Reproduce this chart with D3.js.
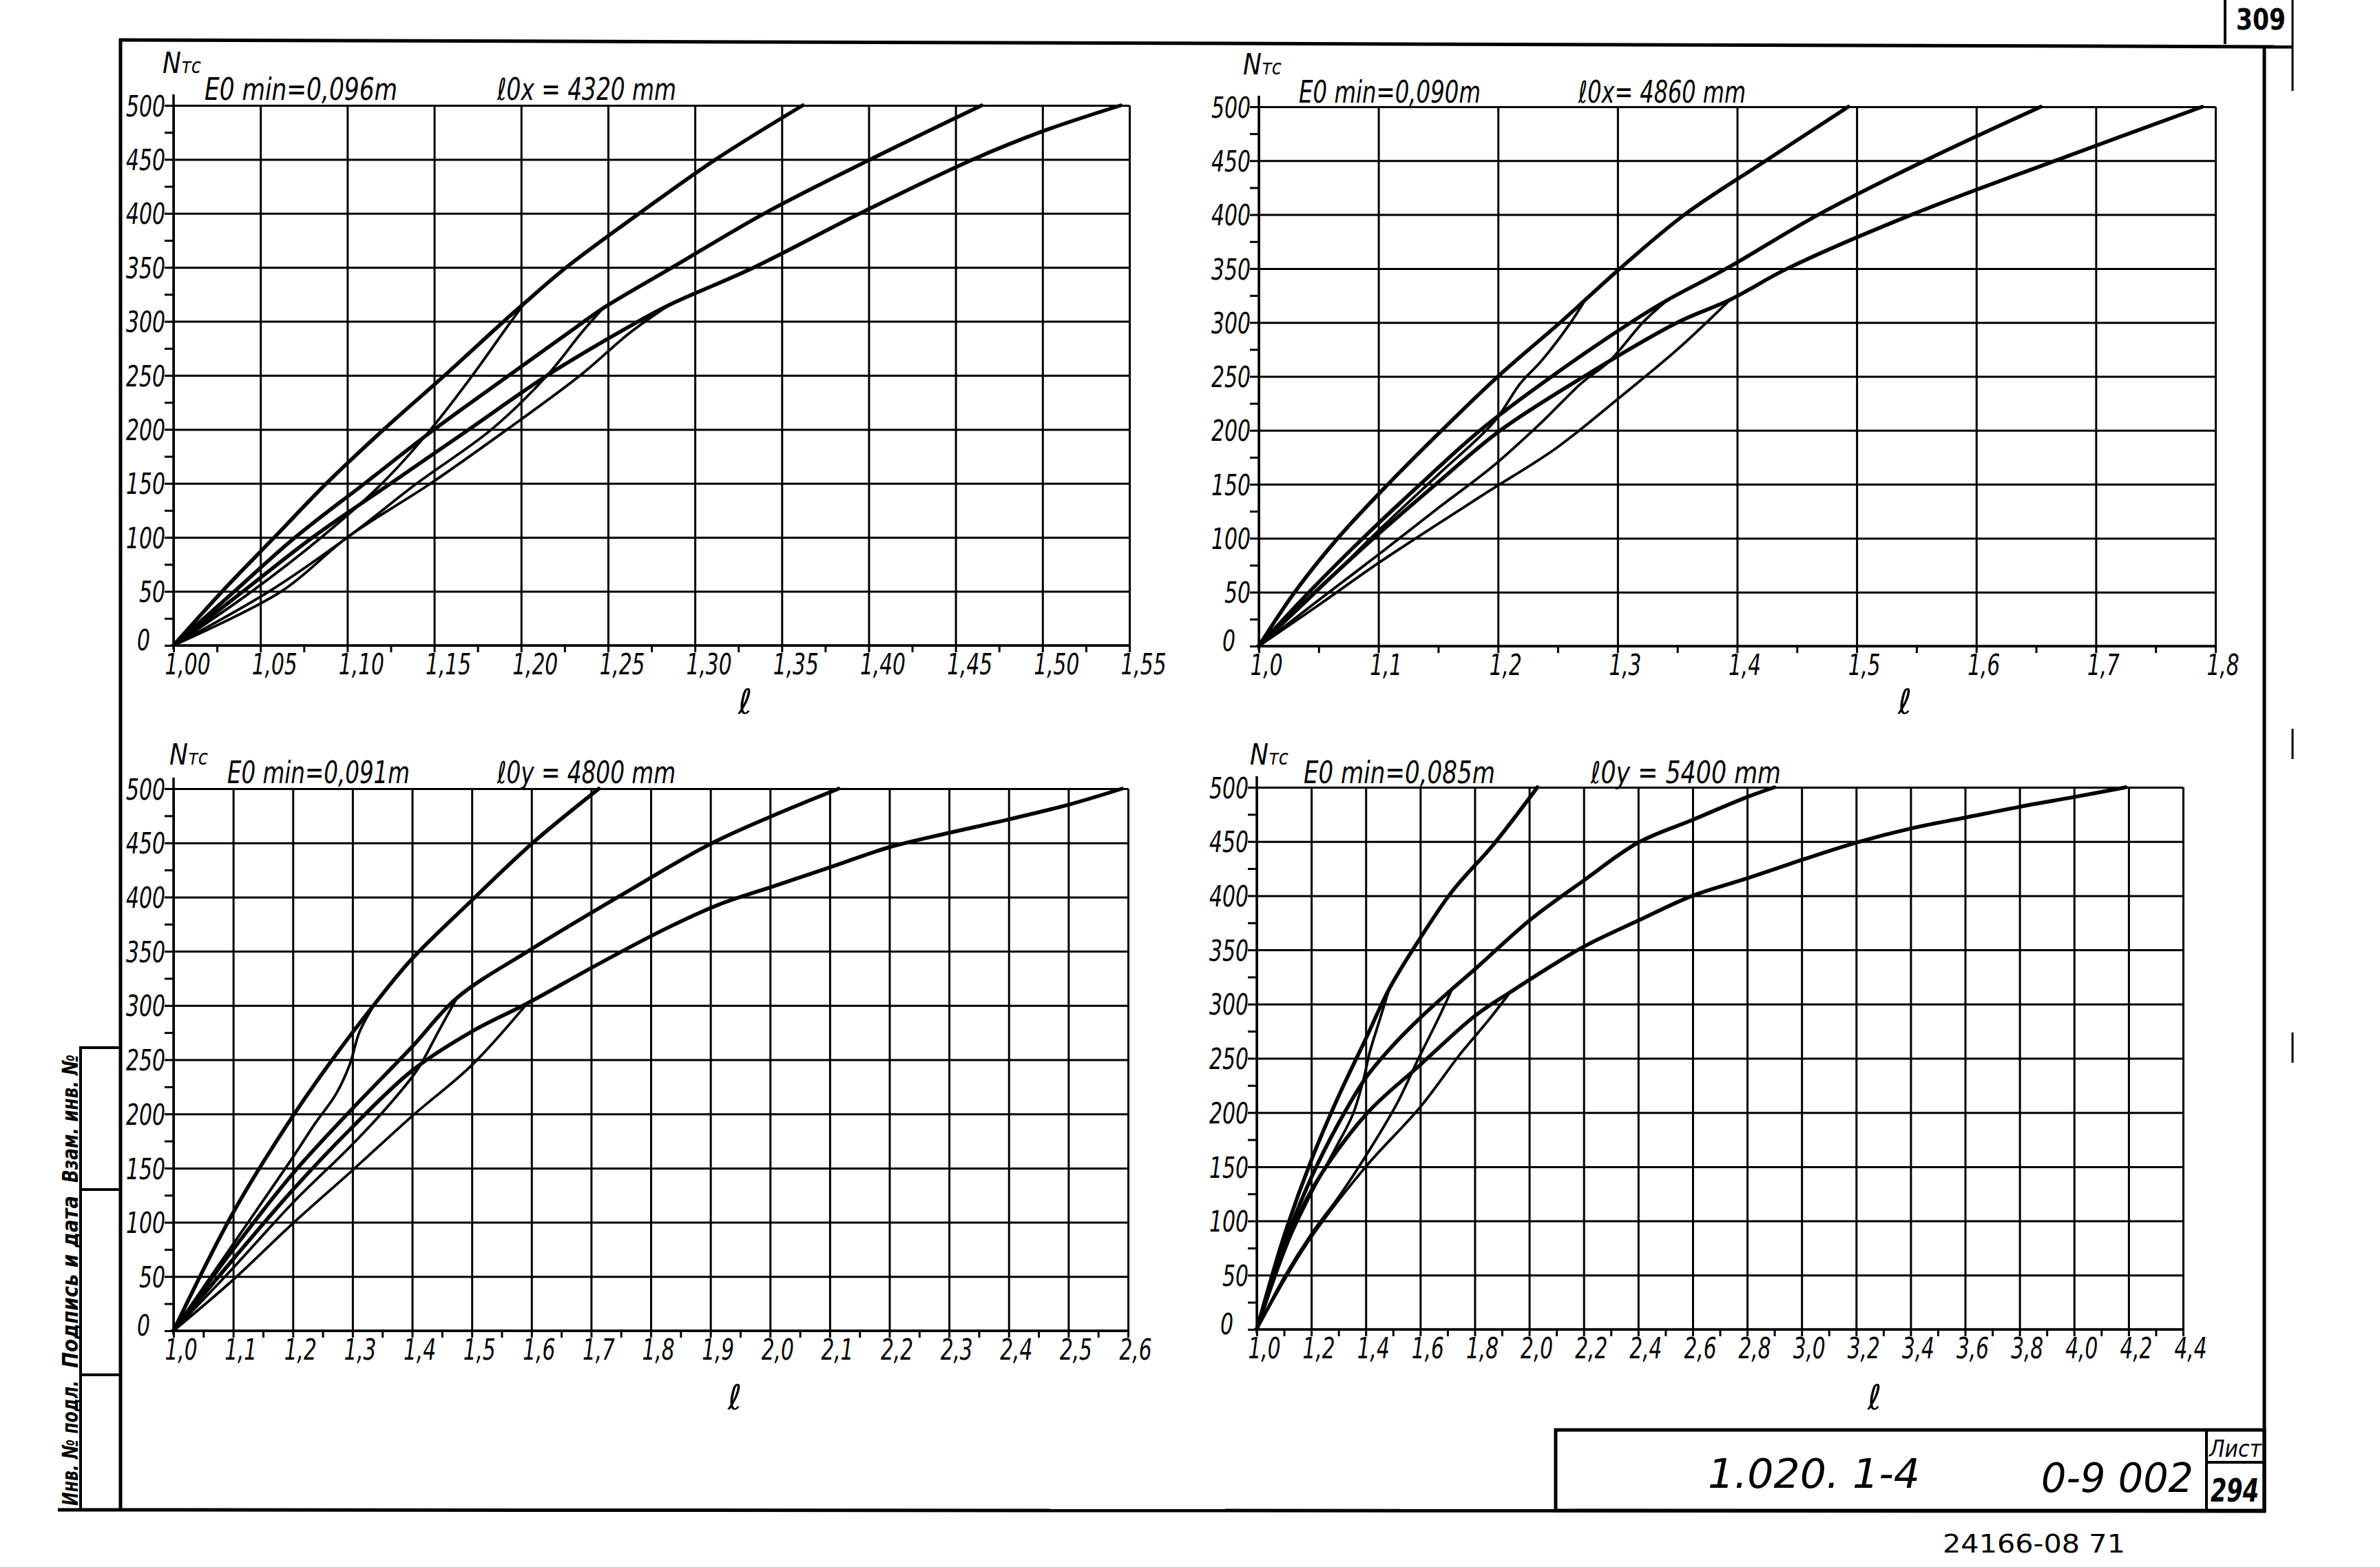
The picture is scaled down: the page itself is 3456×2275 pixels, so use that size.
<!DOCTYPE html>
<html><head><meta charset="utf-8">
<script src="https://cdn.jsdelivr.net/npm/d3@7"></script>
<style>
html,body{margin:0;padding:0;background:#fff;}
svg{display:block;background:#fff;}
</style></head><body>
<svg id="c" width="3456" height="2275"></svg>
<script>
// ---------------- DATA ----------------
const yTicks = [0,50,100,150,200,250,300,350,400,450,500];
const yTickLabels = ["0","50","100","150","200","250","300","350","400","450","500"];
const yMinorTicks = [25,75,125,175,225,275,325,375,425,475];

// chart 1 (top left)
const c1XTicks = [1.00,1.05,1.10,1.15,1.20,1.25,1.30,1.35,1.40,1.45,1.50,1.55];
const c1XLabels = ["1,00","1,05","1,10","1,15","1,20","1,25","1,30","1,35","1,40","1,45","1,50","1,55"];
const c1XMinor = [1.025,1.075,1.125,1.175,1.225,1.275,1.325,1.375,1.425,1.475,1.525];
const c1Title = ["E0 min=0,096m", "ℓ0x = 4320 mm"];
const c1U1 = [[1.000,0],[1.028,50],[1.058,100],[1.088,150],[1.121,200],[1.156,250],[1.190,300],[1.202,317],[1.226,350],[1.268,400],[1.312,450],[1.362,500]];
const c1L1 = [[1.000,0],[1.045,50],[1.085,100],[1.120,150],[1.148,200],[1.172,250],[1.192,295],[1.202,317]];
const c1U2 = [[1.000,0],[1.035,50],[1.070,100],[1.110,150],[1.150,200],[1.193,250],[1.232,295],[1.247,312],[1.287,350],[1.340,400],[1.401,450],[1.465,500]];
const c1L2 = [[1.000,0],[1.055,50],[1.100,100],[1.140,150],[1.183,200],[1.215,250],[1.235,290],[1.247,312]];
const c1U3 = [[1.000,0],[1.040,50],[1.080,100],[1.125,150],[1.170,200],[1.215,250],[1.262,295],[1.285,315],[1.334,350],[1.395,400],[1.460,450],[1.500,476],[1.545,500]];
const c1L3 = [[1.000,0],[1.062,50],[1.100,100],[1.148,150],[1.192,200],[1.234,250],[1.263,290],[1.285,315]];

// chart 2 (top right)
const c2XTicks = [1.0,1.1,1.2,1.3,1.4,1.5,1.6,1.7,1.8];
const c2XLabels = ["1,0","1,1","1,2","1,3","1,4","1,5","1,6","1,7","1,8"];
const c2XMinor = [1.05,1.15,1.25,1.35,1.45,1.55,1.65,1.75];
const c2Title = ["E0 min=0,090m", "ℓ0x= 4860 mm"];
const c2U1 = [[1.0,0],[1.030,50],[1.066,100],[1.108,150],[1.153,200],[1.200,250],[1.252,300],[1.273,321],[1.302,350],[1.356,400],[1.424,450],[1.493,500]];
const c2L1 = [[1.0,0],[1.047,49],[1.099,106],[1.150,159],[1.196,207],[1.219,244],[1.236,264],[1.259,297],[1.273,321]];
const c2U2 = [[1.0,0],[1.042,50],[1.087,100],[1.135,150],[1.185,200],[1.245,250],[1.311,300],[1.342,321],[1.391,350],[1.468,400],[1.557,450],[1.654,500]];
const c2L2 = [[1.0,0],[1.047,40],[1.099,84],[1.150,128],[1.196,167],[1.236,207],[1.270,244],[1.293,264],[1.322,301],[1.342,321]];
const c2U3 = [[1.0,0],[1.047,50],[1.096,100],[1.148,150],[1.202,200],[1.272,250],[1.350,300],[1.394,321],[1.442,350],[1.546,400],[1.666,450],[1.789,500]];
const c2L3 = [[1.0,0],[1.050,38],[1.100,77],[1.190,142],[1.248,183],[1.299,228],[1.351,276],[1.394,321]];

// chart 3 (bottom left)
const c3XTicks = [1.0,1.1,1.2,1.3,1.4,1.5,1.6,1.7,1.8,1.9,2.0,2.1,2.2,2.3,2.4,2.5,2.6];
const c3XLabels = ["1,0","1,1","1,2","1,3","1,4","1,5","1,6","1,7","1,8","1,9","2,0","2,1","2,2","2,3","2,4","2,5","2,6"];
const c3XMinor = [1.05,1.15,1.25,1.35,1.45,1.55,1.65,1.75,1.85,1.95,2.05,2.15,2.25,2.35,2.45,2.55];
const c3Title = ["E0 min=0,091m", "ℓ0y = 4800 mm"];
const c3U1 = [[1.0,0],[1.1,109],[1.2,198],[1.27,253],[1.338,302],[1.398,342],[1.5,397],[1.6,449],[1.713,500]];
const c3L1 = [[1.0,0],[1.1,80],[1.2,160],[1.237,191],[1.272,218],[1.295,245],[1.312,276],[1.338,302]];
const c3U2 = [[1.0,0],[1.1,75],[1.2,145],[1.3,205],[1.4,262],[1.475,307],[1.6,352],[1.742,399],[1.9,449],[2.0,474],[2.115,500]];
const c3L2 = [[1.0,0],[1.1,58],[1.2,118],[1.3,172],[1.364,210],[1.409,241],[1.444,276],[1.475,307]];
const c3U3 = [[1.0,0],[1.1,66],[1.2,130],[1.3,188],[1.4,240],[1.5,276],[1.593,302],[1.708,337],[1.822,370],[1.914,393],[2.006,410],[2.103,428],[2.2,446],[2.298,459],[2.395,471],[2.499,485],[2.59,500]];
const c3L3 = [[1.0,0],[1.1,47],[1.2,99],[1.3,148],[1.4,198],[1.5,245],[1.593,302]];

// chart 4 (bottom right)
const c4XTicks = [1.0,1.2,1.4,1.6,1.8,2.0,2.2,2.4,2.6,2.8,3.0,3.2,3.4,3.6,3.8,4.0,4.2,4.4];
const c4XLabels = ["1,0","1,2","1,4","1,6","1,8","2,0","2,2","2,4","2,6","2,8","3,0","3,2","3,4","3,6","3,8","4,0","4,2","4,4"];
const c4XMinor = [1.1,1.3,1.5,1.7,1.9,2.1,2.3,2.5,2.7,2.9,3.1,3.3,3.5,3.7,3.9,4.1,4.3];
const c4Title = ["E0 min=0,085m", "ℓ0y = 5400 mm"];
const c4U1 = [[1.0,0],[1.1,86],[1.2,156],[1.3,215],[1.4,268],[1.486,314],[1.59,357],[1.717,404],[1.868,447],[2.03,500]];
const c4L1 = [[1.0,0],[1.088,65],[1.189,120],[1.289,167],[1.352,198],[1.39,229],[1.415,256],[1.453,287],[1.486,314]];
const c4U2 = [[1.0,0],[1.1,78],[1.2,140],[1.3,190],[1.4,232],[1.5,262],[1.59,285],[1.717,314],[1.8,332],[2.0,377],[2.2,414],[2.4,449],[2.6,470],[2.8,491],[2.9,500]];
const c4L2 = [[1.0,0],[1.1,48],[1.2,88],[1.3,122],[1.4,160],[1.516,209],[1.59,248],[1.667,287],[1.717,314]];
const c4U3 = [[1.0,0],[1.1,72],[1.2,128],[1.4,198],[1.6,244],[1.8,289],[1.93,311],[2.2,353],[2.4,377],[2.6,400],[2.8,416],[3.0,433],[3.2,449],[3.4,462],[3.6,472],[3.8,482],[4.0,491],[4.19,500]];
const c4L3 = [[1.0,0],[1.1,45],[1.2,85],[1.4,150],[1.6,205],[1.75,255],[1.85,285],[1.93,311]];

const yUnit = ["N", "тс"];
const xUnit = "ℓ";
const stampTexts = ["Взам. инв. №", "Подпись и дата", "Инв. № подл."];
const sheetCode = "1.020. 1-4";
const sheetNumber = "0-9 002";
const sheetLabel = "Лист";
const sheetPage = "294";
const cornerNumber = "309";
const footerCode = "24166-08 71";

// ---------------- LAYOUT ----------------
const FONT = "'DejaVu Sans','Liberation Sans',sans-serif";
const svg = d3.select("#c");
// width of a hand-lettered label: digits wide, commas narrow
const labelWidth = s => Array.from(s).reduce((a,ch)=> a + (ch===","||ch==="." ? 9 : 19), 0);

const charts = [
  {box:{x0:252,x1:1640,y0:937,y1:153}, dom:[1.0,1.55], ticks:c1XTicks, labels:c1XLabels, minor:c1XMinor, title:c1Title,
   upper:[c1U1,c1U2,c1U3], lower:[c1L1,c1L2,c1L3], unitPos:[236,106], t1:[297,145,280], t2:[722,145,260], lPos:[1082,1036]},
  {box:{x0:1828,x1:3217,y0:938,y1:155}, dom:[1.0,1.8], ticks:c2XTicks, labels:c2XLabels, minor:c2XMinor, title:c2Title,
   upper:[c2U1,c2U2,c2U3], lower:[c2L1,c2L2,c2L3], unitPos:[1805,108], t1:[1886,149,264], t2:[2292,149,243], lPos:[2766,1036]},
  {box:{x0:252,x1:1638,y0:1932,y1:1145}, dom:[1.0,2.6], ticks:c3XTicks, labels:c3XLabels, minor:c3XMinor, title:c3Title,
   upper:[c3U1,c3U2,c3U3], lower:[c3L1,c3L2,c3L3], unitPos:[246,1110], t1:[330,1137,265], t2:[722,1137,259], lPos:[1067,2046]},
  {box:{x0:1825,x1:3170,y0:1930,y1:1143}, dom:[1.0,4.4], ticks:c4XTicks, labels:c4XLabels, minor:c4XMinor, title:c4Title,
   upper:[c4U1,c4U2,c4U3], lower:[c4L1,c4L2,c4L3], unitPos:[1815,1110], t1:[1893,1137,278], t2:[2310,1137,276], lPos:[2722,2046]}
];

function drawChart(cfg){
  const b = cfg.box;
  const x = d3.scaleLinear().domain(cfg.dom).range([b.x0,b.x1]);
  const y = d3.scaleLinear().domain([0,500]).range([b.y0,b.y1]);
  const g = svg.append("g");

  // vertical grid lines + x labels
  const gx = g.append("g").attr("transform",`translate(0,${b.y0})`)
    .call(d3.axisBottom(x).tickValues(cfg.ticks).tickSize(-(b.y0-b.y1)).tickSizeOuter(0)
      .tickFormat((d,i)=>cfg.labels[i]).tickPadding(12));
  gx.select(".domain").remove();
  gx.selectAll(".tick line").attr("stroke","#000").attr("stroke-width",3);
  gx.selectAll(".tick text").attr("font-family",FONT).attr("font-size",42).attr("font-style","italic")
    .attr("text-anchor","start").attr("dx",-13).attr("fill","#000")
    .attr("textLength",(d,i)=>labelWidth(cfg.labels[i])).attr("lengthAdjust","spacingAndGlyphs");

  // small ticks below x axis
  const gxt = g.append("g").attr("transform",`translate(0,${b.y0})`)
    .call(d3.axisBottom(x).tickValues(cfg.ticks.concat(cfg.minor)).tickSize(10).tickSizeOuter(0).tickFormat(""));
  gxt.select(".domain").remove();
  gxt.selectAll(".tick line").attr("stroke","#000").attr("stroke-width",3);

  // horizontal grid lines + y labels
  const gy = g.append("g").attr("transform",`translate(${b.x0},0)`)
    .call(d3.axisLeft(y).tickValues(yTicks).tickSize(-(b.x1-b.x0)).tickSizeOuter(0)
      .tickFormat((d,i)=>yTickLabels[i]).tickPadding(12));
  gy.select(".domain").remove();
  gy.selectAll(".tick line").attr("stroke","#000").attr("stroke-width",3);
  gy.selectAll(".tick text").attr("font-family",FONT).attr("font-size",42).attr("font-style","italic").attr("fill","#000")
    .attr("x",d=> d===0 ? -34 : -12).attr("dy", d=> d===0 ? "0.15em" : "0.36em")
    .attr("textLength",(d,i)=>labelWidth(yTickLabels[i])).attr("lengthAdjust","spacingAndGlyphs");

  // small ticks left of y axis
  const gyt = g.append("g").attr("transform",`translate(${b.x0},0)`)
    .call(d3.axisLeft(y).tickValues(yTicks.concat(yMinorTicks)).tickSize(13).tickSizeOuter(0).tickFormat(""));
  gyt.select(".domain").remove();
  gyt.selectAll(".tick line").attr("stroke","#000").attr("stroke-width",3);

  // axes lines
  g.append("line").attr("x1",b.x0).attr("x2",b.x0).attr("y1",b.y0+6).attr("y2",b.y1-16)
    .attr("stroke","#000").attr("stroke-width",3.5);
  g.append("line").attr("x1",b.x0-4).attr("x2",b.x1+2).attr("y1",b.y0).attr("y2",b.y0)
    .attr("stroke","#000").attr("stroke-width",3.5);

  // curves
  const line = d3.line().x(d=>x(d[0])).y(d=>y(d[1])).curve(d3.curveCatmullRom.alpha(0.5));
  g.selectAll("path.up").data(cfg.upper).enter().append("path").attr("class","up")
    .attr("d",line).attr("fill","none").attr("stroke","#000").attr("stroke-width",5.5)
    .attr("stroke-linejoin","round").attr("stroke-linecap","round");
  g.selectAll("path.lo").data(cfg.lower).enter().append("path").attr("class","lo")
    .attr("d",line).attr("fill","none").attr("stroke","#000").attr("stroke-width",3.8)
    .attr("stroke-linejoin","round").attr("stroke-linecap","round");

  // unit label
  const u = g.append("text").attr("x",cfg.unitPos[0]).attr("y",cfg.unitPos[1])
    .attr("font-family",FONT).attr("font-style","italic").attr("fill","#000")
    .attr("textLength",56).attr("lengthAdjust","spacingAndGlyphs");
  u.append("tspan").attr("font-size",42).text(yUnit[0]);
  u.append("tspan").attr("font-size",30).text(yUnit[1]);

  // titles
  [cfg.t1,cfg.t2].forEach((t,i)=>{
    g.append("text").attr("x",t[0]).attr("y",t[1]).attr("font-family",FONT).attr("font-size",44)
      .attr("font-style","italic").attr("fill","#000")
      .attr("textLength",t[2]).attr("lengthAdjust","spacingAndGlyphs").text(cfg.title[i]);
  });

  // x unit
  g.append("text").attr("x",cfg.lPos[0]).attr("y",cfg.lPos[1]).attr("text-anchor","middle")
    .attr("font-family",FONT).attr("font-size",50).attr("font-style","italic").attr("fill","#000").text(xUnit);
}
charts.forEach(drawChart);

// ---------------- FRAME ----------------
const fr = svg.append("g").attr("stroke","#000").attr("fill","none");
fr.append("line").attr("x1",173).attr("y1",58).attr("x2",3329).attr("y2",68).attr("stroke-width",5);
fr.append("line").attr("x1",175).attr("y1",56).attr("x2",175).attr("y2",2194).attr("stroke-width",5);
fr.append("line").attr("x1",3288).attr("y1",66).attr("x2",3288).attr("y2",2196).attr("stroke-width",5);
fr.append("line").attr("x1",84).attr("y1",2192).attr("x2",3290).attr("y2",2194).attr("stroke-width",5);
// corner box
fr.append("line").attr("x1",3231).attr("y1",0).attr("x2",3231).attr("y2",64).attr("stroke-width",4);
// outer broken line
[[0,132],[1058,1102],[1499,1543]].forEach(s=>{
  fr.append("line").attr("x1",3329).attr("x2",3329).attr("y1",s[0]).attr("y2",s[1]).attr("stroke-width",3);
});
// stamp at left
fr.append("line").attr("x1",117).attr("y1",1519).attr("x2",117).attr("y2",2194).attr("stroke-width",4);
[1521,1727,1996].forEach(yy=>{
  fr.append("line").attr("x1",117).attr("x2",175).attr("y1",yy).attr("y2",yy).attr("stroke-width",4);
});
const stampCenters = [1624,1861,2095];
const stampLengths = [186,250,182];
stampTexts.forEach((t,i)=>{
  svg.append("text").attr("transform",`translate(102,${stampCenters[i]}) rotate(-90)`)
    .attr("text-anchor","middle").attr("dominant-baseline","central")
    .attr("font-family",FONT).attr("font-weight","bold").attr("font-style","italic").attr("font-size",32)
    .attr("textLength",stampLengths[i]).attr("lengthAdjust","spacingAndGlyphs")
    .attr("fill","#000").text(t);
});
// title block
fr.append("rect").attr("x",2259).attr("y",2076).attr("width",3288-2259).attr("height",2193-2076).attr("stroke-width",5);
fr.append("line").attr("x1",3204).attr("x2",3204).attr("y1",2076).attr("y2",2193).attr("stroke-width",4);
fr.append("line").attr("x1",3204).attr("x2",3288).attr("y1",2123).attr("y2",2123).attr("stroke-width",4);

svg.append("text").attr("x",2480).attr("y",2160).attr("font-family",FONT).attr("font-style","italic")
  .attr("font-size",58).attr("textLength",308).attr("lengthAdjust","spacingAndGlyphs").attr("fill","#000").text(sheetCode);
svg.append("text").attr("x",2964).attr("y",2166).attr("font-family",FONT).attr("font-style","italic")
  .attr("font-size",58).attr("textLength",221).attr("lengthAdjust","spacingAndGlyphs").attr("fill","#000").text(sheetNumber);
svg.append("text").attr("x",3208).attr("y",2115).attr("font-family",FONT).attr("font-style","italic")
  .attr("font-size",34).attr("textLength",76).attr("lengthAdjust","spacingAndGlyphs").attr("fill","#000").text(sheetLabel);
svg.append("text").attr("x",3210).attr("y",2180).attr("font-family",FONT).attr("font-style","italic")
  .attr("font-weight","bold").attr("font-size",46).attr("textLength",70).attr("lengthAdjust","spacingAndGlyphs")
  .attr("fill","#000").text(sheetPage);
svg.append("text").attr("x",3247).attr("y",43).attr("font-family",FONT).attr("font-weight","bold")
  .attr("font-size",42).attr("textLength",72).attr("lengthAdjust","spacingAndGlyphs").attr("fill","#000").text(cornerNumber);
svg.append("text").attr("x",2821).attr("y",2254).attr("font-family",FONT)
  .attr("font-size",38).attr("textLength",265).attr("lengthAdjust","spacingAndGlyphs").attr("fill","#000").text(footerCode);
</script>
</body></html>
